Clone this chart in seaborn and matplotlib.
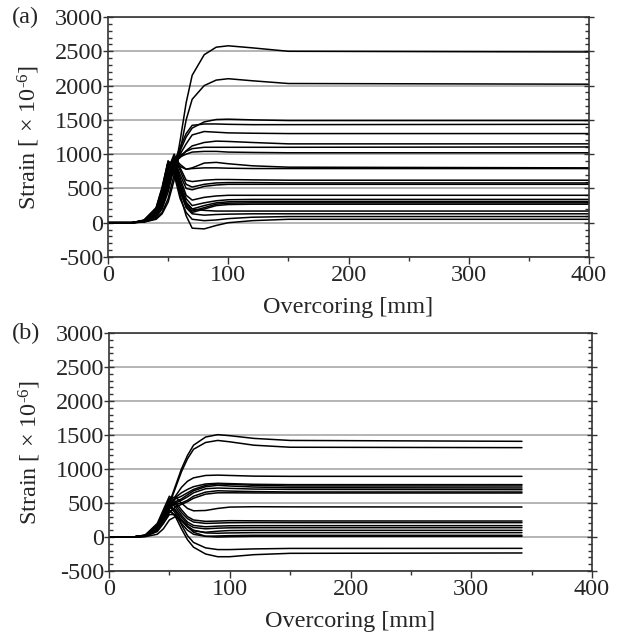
import numpy as np
import pandas as pd
import seaborn as sns
import matplotlib.pyplot as plt
from matplotlib.ticker import MultipleLocator

sns.set_theme(style="white")
plt.rcParams['font.family'] = ['Liberation Serif', 'DejaVu Serif']
plt.rcParams['mathtext.fontset'] = 'custom'
plt.rcParams['mathtext.rm'] = 'Liberation Serif'
plt.rcParams['mathtext.it'] = 'Liberation Serif:italic'
plt.rcParams['axes.unicode_minus'] = False

X_A = [0, 20, 30, 40, 45, 50, 55, 60, 65, 70, 80, 90, 100, 120, 150, 400]
X_B = [0, 20, 30, 40, 45, 50, 55, 60, 65, 70, 80, 90, 100, 120, 150, 342]

# Panel (a) strain curves [x 10^-6]
STRAIN_A = [
    [0, 0, 10, 60, 150, 350, 700, 1200, 1750, 2150, 2450, 2560, 2580, 2550, 2500, 2490],
    [0, 0, 10, 50, 130, 300, 620, 1050, 1500, 1800, 2000, 2080, 2100, 2070, 2030, 2020],
    [0, 0, 15, 80, 200, 450, 800, 1050, 1250, 1380, 1470, 1505, 1510, 1500, 1490, 1490],
    [0, 0, 20, 100, 250, 550, 880, 1100, 1300, 1420, 1440, 1440, 1435, 1430, 1430, 1435],
    [0, 0, 15, 90, 220, 500, 850, 1000, 1150, 1280, 1330, 1320, 1310, 1305, 1300, 1300],
    [0, 0, 20, 110, 280, 600, 900, 950, 1050, 1120, 1170, 1190, 1185, 1170, 1150, 1150],
    [0, 0, 25, 120, 300, 620, 920, 980, 1040, 1080, 1100, 1100, 1100, 1100, 1100, 1105],
    [0, 0, 20, 100, 260, 560, 880, 960, 1000, 1030, 1040, 1040, 1030, 1025, 1020, 1020],
    [0, 0, 25, 140, 350, 700, 950, 850, 780, 800, 870, 880, 860, 830, 810, 800],
    [0, 0, 20, 120, 320, 680, 900, 820, 780, 790, 800, 800, 795, 790, 790, 790],
    [0, 0, 30, 160, 400, 780, 1000, 800, 620, 600, 620, 630, 630, 625, 620, 620],
    [0, 0, 25, 150, 380, 760, 960, 760, 560, 520, 560, 580, 585, 585, 580, 580],
    [0, 0, 20, 130, 330, 700, 920, 700, 500, 480, 530, 550, 560, 560, 560, 560],
    [0, 0, 30, 170, 420, 800, 950, 650, 400, 330, 370, 390, 400, 400, 400, 400],
    [0, 0, 30, 180, 450, 850, 900, 600, 350, 250, 290, 320, 335, 340, 340, 340],
    [0, 0, 35, 200, 480, 880, 880, 550, 300, 200, 250, 290, 305, 310, 310, 310],
    [0, 0, 30, 190, 460, 870, 860, 520, 260, 170, 220, 270, 285, 290, 290, 290],
    [0, 0, 25, 170, 430, 840, 840, 480, 230, 150, 200, 250, 265, 270, 270, 270],
    [0, 0, 30, 180, 440, 850, 820, 500, 280, 200, 180, 170, 170, 170, 170, 170],
    [0, 0, 35, 210, 500, 900, 800, 450, 220, 130, 110, 120, 125, 130, 130, 130],
    [0, 0, 30, 200, 480, 880, 700, 350, 150, 50, 30, 40, 60, 80, 90, 90],
    [0, 0, 40, 220, 520, 900, 750, 400, 100, -80, -90, -40, 0, 30, 50, 50],
]

# Panel (b) strain curves [x 10^-6]
STRAIN_B = [
    [0, 0, 20, 150, 300, 500, 750, 1000, 1200, 1350, 1470, 1505, 1490, 1450, 1420, 1407],
    [0, 0, 20, 140, 290, 480, 720, 960, 1150, 1290, 1390, 1420, 1400, 1350, 1320, 1314],
    [0, 0, 15, 120, 250, 420, 600, 730, 820, 870, 905, 910, 905, 895, 892, 892],
    [0, 0, 20, 130, 270, 450, 580, 650, 700, 740, 780, 790, 785, 775, 770, 770],
    [0, 0, 25, 150, 300, 480, 560, 600, 650, 700, 760, 780, 775, 760, 750, 750],
    [0, 0, 20, 140, 280, 460, 520, 560, 620, 680, 740, 760, 750, 735, 725, 721],
    [0, 0, 15, 110, 240, 420, 500, 540, 590, 650, 710, 720, 715, 705, 700, 696],
    [0, 0, 20, 130, 270, 440, 480, 500, 540, 600, 660, 680, 675, 668, 662, 662],
    [0, 0, 10, 90, 200, 360, 440, 480, 520, 570, 630, 650, 650, 648, 647, 647],
    [0, 0, 25, 170, 350, 560, 590, 500, 420, 385, 390, 420, 440, 445, 443, 441],
    [0, 0, 30, 200, 400, 600, 520, 400, 300, 250, 230, 235, 240, 238, 236, 235],
    [0, 0, 25, 180, 370, 560, 480, 360, 270, 220, 200, 205, 210, 212, 211, 211],
    [0, 0, 20, 160, 340, 520, 440, 320, 220, 170, 150, 160, 165, 167, 167, 167],
    [0, 0, 15, 130, 290, 450, 400, 290, 190, 140, 120, 130, 135, 137, 137, 137],
    [0, 0, 20, 150, 320, 480, 380, 250, 150, 90, 70, 85, 95, 98, 98, 98],
    [0, 0, 10, 80, 200, 330, 330, 250, 160, 100, 60, 55, 60, 64, 64, 64],
    [0, 0, 15, 110, 250, 380, 320, 200, 100, 40, 10, 15, 20, 25, 25, 25],
    [0, 0, 5, 40, 120, 250, 300, 240, 150, 70, 10, 0, 5, 10, 10, 10],
    [0, 0, 20, 140, 300, 450, 350, 180, 20, -80, -160, -185, -185, -175, -168, -167],
    [0, 0, 15, 120, 260, 400, 300, 120, -40, -150, -250, -290, -290, -260, -240, -235],
]

PANEL_TAGS = ['(a)', '(b)']
X_LABEL = 'Overcoring [mm]'
Y_LABEL = r'Strain [ $\times$ 10$^{\text{-6}}$]'
FS = 17.5


def to_long(x, curves):
    rows = []
    for i, ys in enumerate(curves):
        for xv, yv in zip(x, ys):
            rows.append((i, xv, yv))
    return pd.DataFrame(rows, columns=['curve', 'x', 'strain'])


fig = plt.figure(figsize=(6.24, 6.33), dpi=100)
ax_a = fig.add_axes([108 / 624, 1 - 257 / 633, 481 / 624, 240 / 633])
ax_b = fig.add_axes([109 / 624, 1 - 571 / 633, 483 / 624, 238 / 633])

for ax, x, curves, tag, ty in [(ax_a, X_A, STRAIN_A, PANEL_TAGS[0], 17),
                               (ax_b, X_B, STRAIN_B, PANEL_TAGS[1], 333)]:
    df = to_long(x, curves)
    for y in range(-500, 3001, 500):
        ax.axhline(y, color='#b4b4b4', lw=1.4, zorder=0)
    sns.lineplot(data=df, x='x', y='strain', units='curve', estimator=None,
                 color='black', lw=1.1, ax=ax, legend=False, zorder=2)
    ax.set_xlim(0, 400)
    ax.set_ylim(-500, 3000)
    ax.xaxis.set_major_locator(MultipleLocator(100))
    ax.xaxis.set_minor_locator(MultipleLocator(50))
    ax.yaxis.set_major_locator(MultipleLocator(500))
    ax.yaxis.set_minor_locator(MultipleLocator(100))
    ax.tick_params(axis='y', which='major', direction='inout', length=7, width=1,
                   left=True, right=True, labelsize=FS, pad=0, color='#333333')
    ax.tick_params(axis='y', which='minor', direction='in', length=3, width=1,
                   left=True, right=True, color='#333333')
    ax.tick_params(axis='x', which='major', direction='out', length=5, width=1,
                   bottom=True, labelsize=FS, pad=1, color='#333333')
    ax.tick_params(axis='x', which='minor', direction='out', length=3, width=1,
                   bottom=True, color='#333333')
    for s in ax.spines.values():
        s.set_color('#333333')
        s.set_linewidth(1.2)
    ax.set_xlabel(X_LABEL, fontsize=FS, labelpad=8)
    ax.set_ylabel(Y_LABEL, fontsize=FS, labelpad=9)
    fig.text(12 / 624, 1 - ty / 633, tag, fontsize=FS, ha='left', va='center')

plt.savefig('out.png', dpi=100)
